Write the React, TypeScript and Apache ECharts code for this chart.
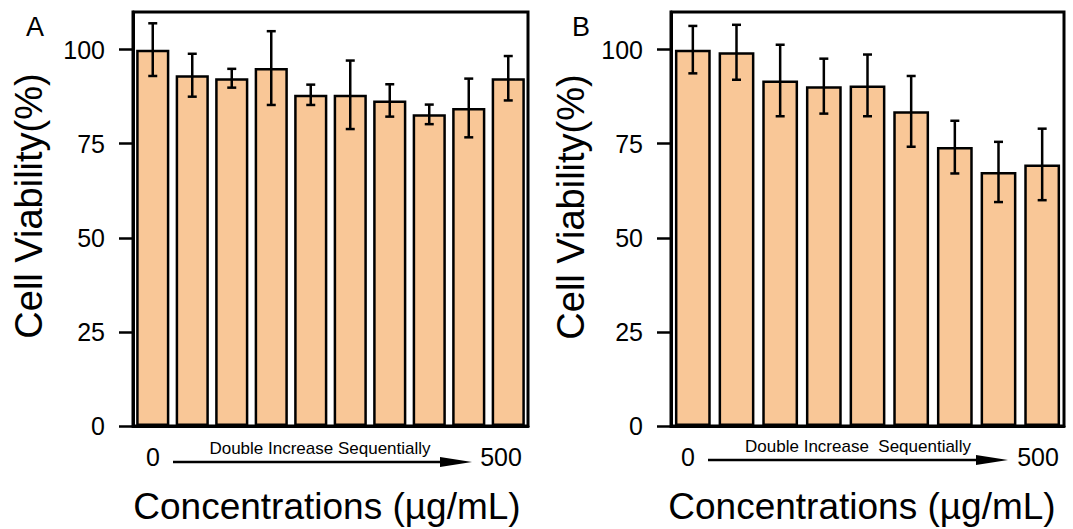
import { useEffect, useRef } from "react";
import * as echarts from "echarts";

// Concentration steps (µg/mL), doubling up to 500
const concA = ["0", "1.95", "3.9", "7.8", "15.6", "31.25", "62.5", "125", "250", "500"];
const concB = ["0", "3.9", "7.8", "15.6", "31.25", "62.5", "125", "250", "500"];

// Mean cell viability (%) and standard deviation
const viabilityA = [100, 93.2, 92.4, 95.1, 88.0, 88.0, 86.5, 82.8, 84.5, 92.4];
const sdA = [7.0, 5.7, 2.5, 9.8, 2.7, 9.1, 4.3, 2.6, 7.8, 5.9];
const viabilityB = [100, 99.3, 91.8, 90.3, 90.5, 83.6, 74.1, 67.5, 69.5];
const sdB = [6.3, 7.3, 9.5, 7.3, 8.2, 9.4, 7.0, 8.0, 9.5];

const yTicks = [0, 25, 50, 75, 100];

const FONT = "'Liberation Sans', Arial, sans-serif";
const BAR_FILL = "#F9C797";

function errorBarSeries(idx: number, means: number[], sds: number[]) {
  return {
    type: "custom",
    xAxisIndex: idx,
    yAxisIndex: idx,
    z: 5,
    data: means.map((m, i) => [i, m - sds[i], m + sds[i]]),
    renderItem: (_params: any, api: any) => {
      const i = api.value(0);
      const lo = api.coord([i, api.value(1)]);
      const hi = api.coord([i, api.value(2)]);
      const cap = 4.5;
      const style = { stroke: "#000", lineWidth: 2.5 };
      return {
        type: "group",
        children: [
          { type: "line", shape: { x1: lo[0], y1: lo[1], x2: hi[0], y2: hi[1] }, style },
          { type: "line", shape: { x1: hi[0] - cap, y1: hi[1], x2: hi[0] + cap, y2: hi[1] }, style },
          { type: "line", shape: { x1: lo[0] - cap, y1: lo[1], x2: lo[0] + cap, y2: lo[1] }, style },
        ],
      };
    },
  };
}

function yAxisFor(idx: number) {
  return {
    type: "value",
    gridIndex: idx,
    min: 0,
    max: 110,
    interval: 25,
    axisLine: { show: true, lineStyle: { color: "#000", width: 3 } },
    axisTick: { show: true, length: 14, lineStyle: { color: "#000", width: 2.5 }, customValues: yTicks },
    axisLabel: { color: "#000", fontSize: 25, fontFamily: FONT, margin: 28, customValues: yTicks },
    splitLine: { show: false },
  };
}

function xAxisFor(idx: number, cats: string[]) {
  return {
    type: "category",
    gridIndex: idx,
    data: cats,
    axisLine: { show: true, lineStyle: { color: "#000", width: 3 } },
    axisTick: { show: false },
    axisLabel: { show: false },
  };
}

function panelText(
  offset: number,
  letter: string,
  letterX: number,
  titleY: number,
  zeroX: number,
  fiveX: number,
  arrowStart: number,
  arrowTip: number,
  arrowY: number,
  captionX: number,
  captionY: number,
  caption: string,
  xTitleX: number
) {
  const els: any[] = [
    {
      type: "text",
      x: letterX,
      y: 27,
      style: { text: letter, fontSize: 27, fontFamily: FONT, fill: "#000", align: "center", verticalAlign: "middle" },
    },
    {
      type: "text",
      x: offset,
      y: titleY,
      rotation: Math.PI / 2,
      style: {
        text: "Cell Viability(%)",
        fontSize: 38,
        fontFamily: FONT,
        fill: "#000",
        align: "center",
        verticalAlign: "middle",
      },
    },
    {
      type: "text",
      x: zeroX,
      y: 457,
      style: { text: "0", fontSize: 25, fontFamily: FONT, fill: "#000", align: "center", verticalAlign: "middle" },
    },
    {
      type: "text",
      x: fiveX,
      y: 457,
      style: { text: "500", fontSize: 25, fontFamily: FONT, fill: "#000", align: "center", verticalAlign: "middle" },
    },
    {
      type: "line",
      shape: { x1: arrowStart, y1: arrowY, x2: arrowTip - 20, y2: arrowY },
      style: { stroke: "#000", lineWidth: 2.5 },
    },
    {
      type: "polygon",
      shape: {
        points: [
          [arrowTip - 32, arrowY - 5],
          [arrowTip, arrowY],
          [arrowTip - 32, arrowY + 5],
        ],
      },
      style: { fill: "#000" },
    },
    {
      type: "text",
      x: captionX,
      y: captionY,
      style: { text: caption, fontSize: 17, fontFamily: FONT, fill: "#000", align: "center", verticalAlign: "middle" },
    },
    {
      type: "text",
      x: xTitleX,
      y: 506,
      style: {
        text: "Concentrations (µg/mL)",
        fontSize: 37,
        fontFamily: FONT,
        fill: "#000",
        align: "center",
        verticalAlign: "middle",
      },
    },
  ];
  return els;
}

export default function App() {
  const ref = useRef<HTMLDivElement>(null);

  useEffect(() => {
    if (!ref.current) return;
    const chart = echarts.init(ref.current, undefined, { renderer: "svg" });

    const gridBase = {
      show: true,
      borderColor: "#000",
      borderWidth: 3,
      backgroundColor: "transparent",
      top: 12,
      height: 414,
      containLabel: false,
    };

    chart.setOption({
      animation: false,
      backgroundColor: "#fff",
      grid: [
        { ...gridBase, left: 133, width: 395 },
        { ...gridBase, left: 671, width: 393 },
      ],
      xAxis: [xAxisFor(0, concA), xAxisFor(1, concB)],
      yAxis: [yAxisFor(0), yAxisFor(1)],
      series: [
        {
          type: "bar",
          xAxisIndex: 0,
          yAxisIndex: 0,
          data: viabilityA,
          barCategoryGap: "16%",
          itemStyle: { color: BAR_FILL, borderColor: "#000", borderWidth: 2.5 },
        },
        {
          type: "bar",
          xAxisIndex: 1,
          yAxisIndex: 1,
          data: viabilityB,
          barCategoryGap: "18%",
          itemStyle: { color: BAR_FILL, borderColor: "#000", borderWidth: 2.5 },
        },
        errorBarSeries(0, viabilityA, sdA),
        errorBarSeries(1, viabilityB, sdB),
      ],
      graphic: [
        ...panelText(29, "A", 35, 206, 153, 501, 173, 472, 462, 320, 448, "Double Increase Sequentially", 327),
        ...panelText(571, "B", 581, 207, 688, 1038, 708, 1008, 460, 858, 446, "Double Increase  Sequentially", 862),
      ],
    });

    return () => chart.dispose();
  }, []);

  return <div ref={ref} style={{ position: "fixed", left: 0, top: 0, width: 1073, height: 529 }} />;
}
